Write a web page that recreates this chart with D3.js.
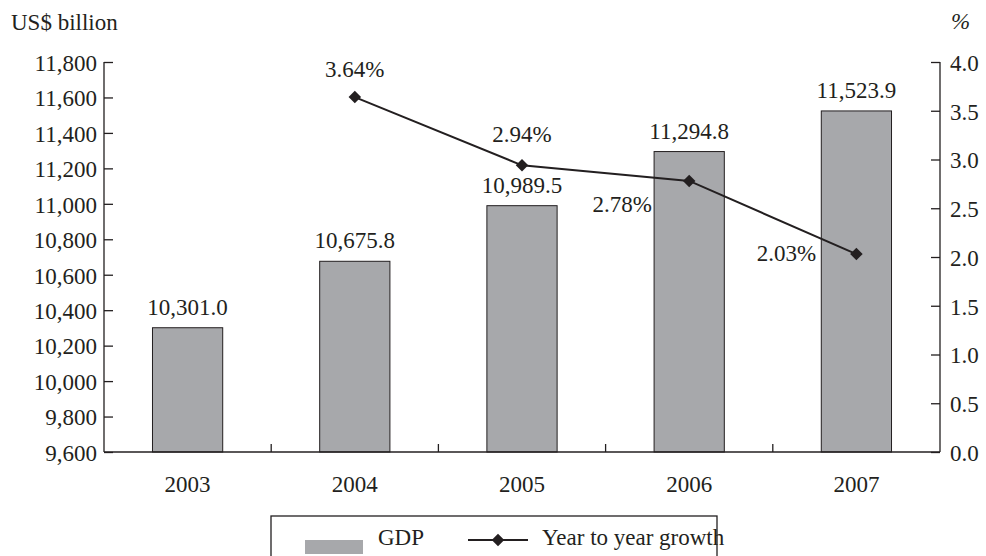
<!DOCTYPE html>
<html lang="en">
<head>
    <meta charset="UTF-8">
    <title>GDP and Year to year growth</title>
    <script src="https://d3js.org/d3.v7.min.js"></script>
    <style>
        * { margin: 0; padding: 0; box-sizing: border-box; }
        body { background: #ffffff; overflow: hidden; }
        svg text { font-family: "Liberation Serif", "DejaVu Serif", serif; fill: #231f20; }
    </style>
</head>
<body>
    <svg></svg>
    <script>
        // data
        const years = ["2003", "2004", "2005", "2006", "2007"];
        const gdp = [10301.0, 10675.8, 10989.5, 11294.8, 11523.9];
        const growth = [null, 3.64, 2.94, 2.78, 2.03];
        const leftTicks = [9600, 9800, 10000, 10200, 10400, 10600, 10800, 11000, 11200, 11400, 11600, 11800];
        const rightTicks = [0, 0.5, 1, 1.5, 2, 2.5, 3, 3.5, 4];

        const width = 986, height = 556;
        const margin = { left: 104, right: 46, top: 62, bottom: 104 };
        const ink = "#231f20";
        const fs = "23px";

        const svg = d3.select("svg").attr("width", width).attr("height", height);

        const x = d3.scaleBand().domain(years)
            .range([margin.left, width - margin.right])
            .paddingInner(0.58).paddingOuter(0.29);
        const yL = d3.scaleLinear().domain([9600, 11800]).range([height - margin.bottom, margin.top]);
        const yR = d3.scaleLinear().domain([0, 4]).range([height - margin.bottom, margin.top]);

        const step = x.step();
        const x0 = margin.left, x1 = width - margin.right;
        const base = yL(9600);
        const cx = d => x(d) + x.bandwidth() / 2;

        // bars
        svg.append("g").selectAll("rect")
            .data(years)
            .enter().append("rect")
            .attr("x", d => x(d))
            .attr("y", (d, i) => yL(gdp[i]))
            .attr("width", x.bandwidth())
            .attr("height", (d, i) => base - yL(gdp[i]))
            .attr("fill", "#a7a8ab")
            .attr("stroke", ink)
            .attr("stroke-width", 1);

        // left axis
        const gl = svg.append("g").attr("transform", `translate(${x0},0)`)
            .call(d3.axisRight(yL).tickValues(leftTicks).tickSize(9).tickFormat(d3.format(",")));
        gl.select(".domain").remove();
        gl.selectAll("line").attr("stroke", ink).attr("stroke-width", 1.3);
        gl.selectAll("text").attr("x", -7).attr("dy", "0.36em").attr("text-anchor", "end")
            .style("font-size", fs).attr("fill", ink);
        svg.append("line").attr("x1", x0).attr("x2", x0).attr("y1", yL(11800)).attr("y2", base)
            .attr("stroke", ink).attr("stroke-width", 1.3);

        // right axis
        const gr = svg.append("g").attr("transform", `translate(${x1},0)`)
            .call(d3.axisLeft(yR).tickValues(rightTicks).tickSize(9).tickFormat(d3.format(".1f")));
        gr.select(".domain").remove();
        gr.selectAll("line").attr("stroke", ink).attr("stroke-width", 1.3);
        gr.selectAll("text").attr("x", 10).attr("dy", "0.36em").attr("text-anchor", "start")
            .style("font-size", fs).attr("fill", ink);
        svg.append("line").attr("x1", x1).attr("x2", x1).attr("y1", yR(4)).attr("y2", base)
            .attr("stroke", ink).attr("stroke-width", 1.3);

        // x axis baseline with ticks between categories
        svg.append("line").attr("x1", x0).attr("x2", x1).attr("y1", base).attr("y2", base)
            .attr("stroke", ink).attr("stroke-width", 1.3);
        svg.append("g").selectAll("line")
            .data(years.slice(1))
            .enter().append("line")
            .attr("x1", d => x(d) - (step - x.bandwidth()) / 2)
            .attr("x2", d => x(d) - (step - x.bandwidth()) / 2)
            .attr("y1", base).attr("y2", base - 8)
            .attr("stroke", ink).attr("stroke-width", 1.3);
        svg.append("g").selectAll("text")
            .data(years)
            .enter().append("text")
            .attr("x", cx)
            .attr("y", base + 40)
            .attr("text-anchor", "middle")
            .style("font-size", fs)
            .text(d => d);

        // bar labels
        svg.append("g").selectAll("text")
            .data(years)
            .enter().append("text")
            .attr("x", cx)
            .attr("y", (d, i) => yL(gdp[i]) - 13)
            .attr("text-anchor", "middle")
            .style("font-size", fs)
            .text((d, i) => d3.format(",.1f")(gdp[i]));

        // growth line
        const pts = years.map((d, i) => ({ year: d, v: growth[i] })).filter(p => p.v !== null);
        const line = d3.line()
            .x(p => cx(p.year))
            .y(p => yR(p.v));
        svg.append("path").datum(pts)
            .attr("d", line)
            .attr("fill", "none")
            .attr("stroke", ink)
            .attr("stroke-width", 2);
        svg.append("g").selectAll("path")
            .data(pts)
            .enter().append("path")
            .attr("d", d3.symbol(d3.symbolDiamond2, 100))
            .attr("transform", p => `translate(${cx(p.year)},${yR(p.v)})`)
            .attr("fill", ink);

        // growth labels (offsets relative to the point)
        const labelOffsets = { "2004": [0, -20], "2005": [0, -23], "2006": [-67, 31], "2007": [-70, 7] };
        svg.append("g").selectAll("text")
            .data(pts)
            .enter().append("text")
            .attr("x", p => cx(p.year) + labelOffsets[p.year][0])
            .attr("y", p => yR(p.v) + labelOffsets[p.year][1])
            .attr("text-anchor", "middle")
            .style("font-size", fs)
            .text(p => p.v.toFixed(2) + "%");

        // axis titles
        svg.append("text").attr("x", 11).attr("y", 30).style("font-size", fs).text("US$ billion");
        svg.append("text").attr("x", 951).attr("y", 29).style("font-size", fs)
            .style("font-style", "italic").text("%");

        // legend
        const lg = svg.append("g").attr("transform", "translate(271,516)");
        lg.append("rect").attr("x", 0).attr("y", 0).attr("width", 446).attr("height", 46)
            .attr("fill", "none").attr("stroke", ink).attr("stroke-width", 1.3);
        lg.append("rect").attr("x", 34).attr("y", 24).attr("width", 58).attr("height", 14)
            .attr("fill", "#a7a8ab");
        lg.append("text").attr("x", 107).attr("y", 29).style("font-size", fs).text("GDP");
        lg.append("line").attr("x1", 197).attr("x2", 257).attr("y1", 24).attr("y2", 24)
            .attr("stroke", ink).attr("stroke-width", 2);
        lg.append("path").attr("d", d3.symbol(d3.symbolDiamond2, 100))
            .attr("transform", "translate(227,24)").attr("fill", ink);
        lg.append("text").attr("x", 271).attr("y", 29).style("font-size", fs).text("Year to year growth");
    </script>
</body>
</html>
